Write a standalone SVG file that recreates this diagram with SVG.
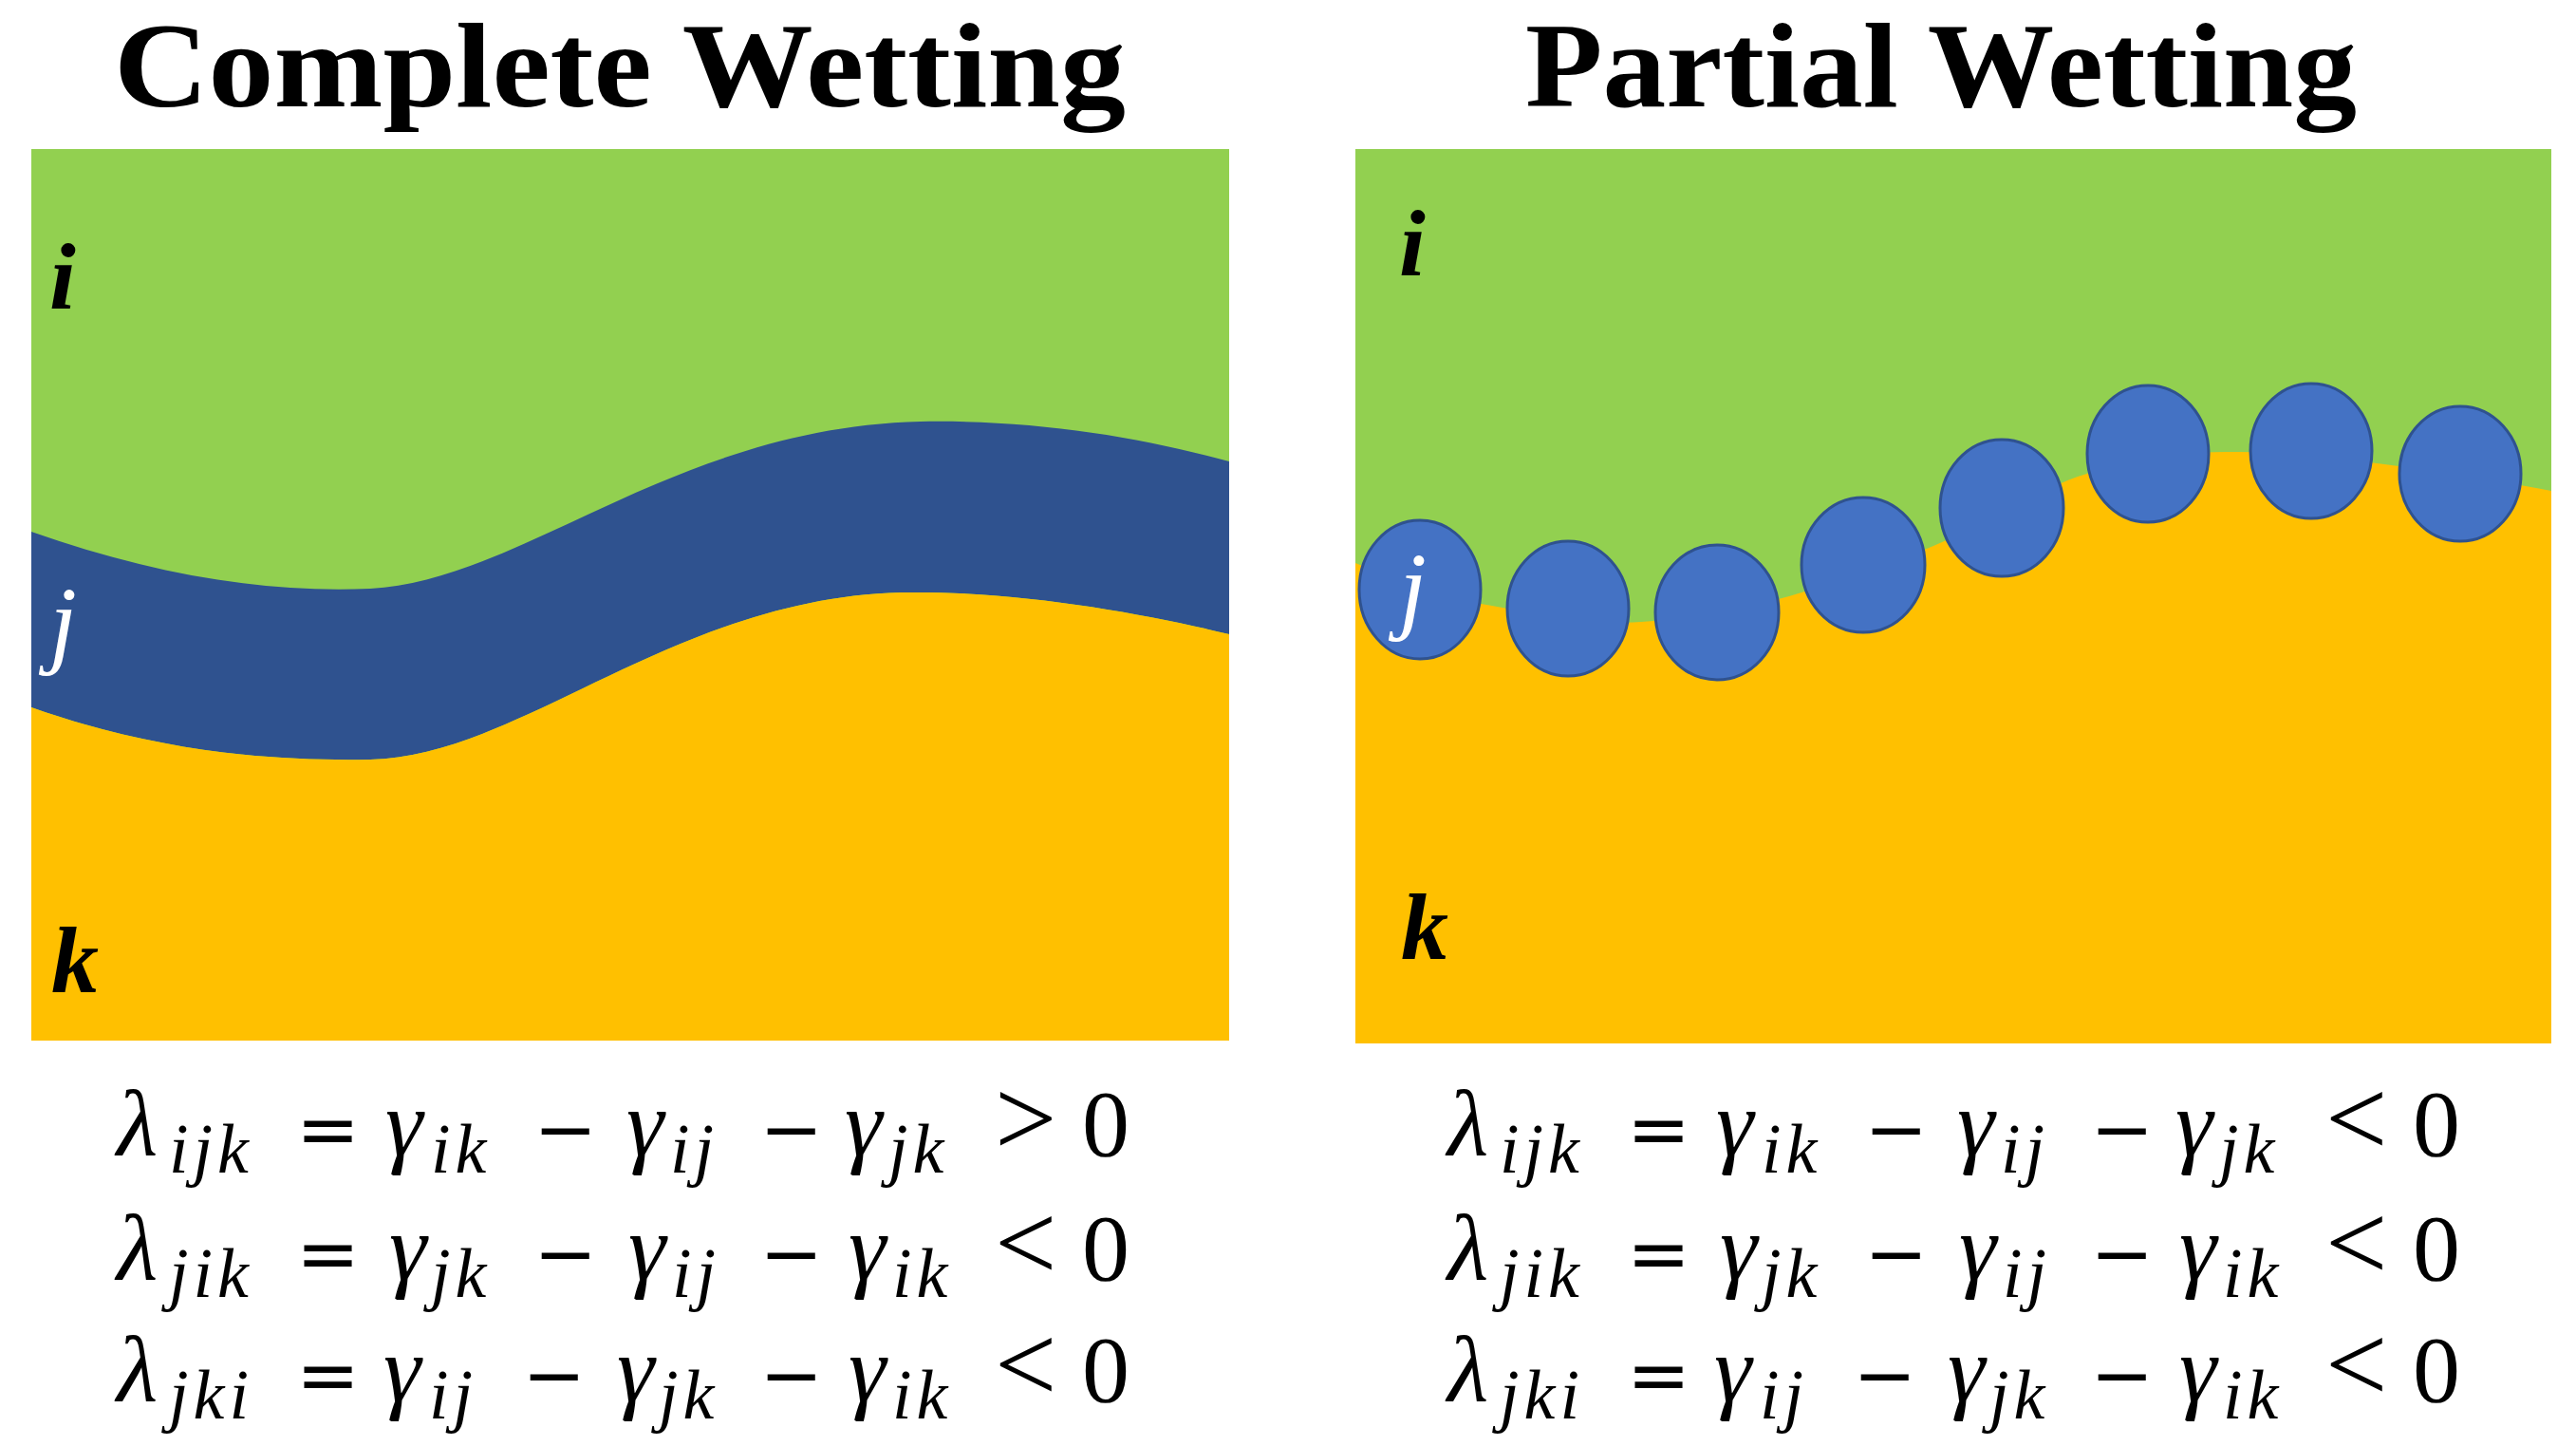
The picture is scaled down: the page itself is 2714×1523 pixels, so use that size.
<svg xmlns="http://www.w3.org/2000/svg" width="2714" height="1523" viewBox="0 0 2714 1523">
<style>
.title{font-family:"Liberation Serif",serif;font-weight:bold;font-size:126px;fill:#000}
.lbl{font-family:"Liberation Serif",serif;font-style:italic;font-weight:bold;font-size:100px;fill:#000}
.lblj{font-family:"Liberation Serif",serif;font-style:italic;font-size:104px;fill:#fff}
.m{font-family:"Liberation Serif",serif;font-style:italic;font-size:100px;fill:#000}
.s{font-family:"Liberation Serif",serif;font-style:italic;font-size:74px;letter-spacing:5px;fill:#000}
.o{font-family:"DejaVu Sans",sans-serif;font-size:80px;fill:#000}
.r{font-family:"Liberation Serif",serif;font-size:116px;fill:#000}
.z{font-family:"Liberation Serif",serif;font-size:100px;fill:#000}
.green{fill:#92D050}
.yellow{fill:#FFC000}
.band{fill:#2F528F}
.drop{fill:#4472C4;stroke:#2F528F;stroke-width:3}
</style>
<rect width="2714" height="1523" fill="#fff"/>
<g id="titles">
<text class="title" x="120" y="112" textLength="1066" lengthAdjust="spacingAndGlyphs">Complete Wetting</text>
<text class="title" x="1607" y="112" textLength="876" lengthAdjust="spacingAndGlyphs">Partial Wetting</text>
</g>
<g id="complete-panel">
<rect class="green" x="33" y="157" width="1262" height="939"/>
<path class="band" d="M33,560 C160,605 280,625 390,620 C550,612 710,450 970,444 C1090,442 1200,460 1295,486 L1295,668 C1200,645 1070,622 950,624 C710,630 550,796 390,800 C280,802 160,790 33,745 Z"/>
<path class="yellow" d="M33,745 C160,790 280,802 390,800 C550,796 710,630 950,624 C1070,622 1200,645 1295,668 L1295,1096 L33,1096 Z"/>
<text class="lbl" x="52" y="325">i</text>
<text class="lblj" x="52" y="690">j</text>
<text class="lbl" x="54" y="1045">k</text>
</g>
<g id="partial-panel">
<rect class="green" x="1428" y="157" width="1260" height="942"/>
<path class="yellow" d="M1428,593 C1480,615 1530,632 1572,638 C1640,650 1690,658 1729,655 C1790,650 1840,640 1885,628 C1950,608 1990,595 2037,575 C2100,548 2140,520 2189,502 C2240,485 2300,476 2346,476 C2420,476 2460,482 2512,489 C2580,498 2640,508 2688,517 L2688,1099 L1428,1099 Z"/>
<g id="droplets">
<ellipse class="drop" cx="1496" cy="621" rx="64" ry="73"/>
<ellipse class="drop" cx="1652" cy="641" rx="64" ry="71"/>
<ellipse class="drop" cx="1809" cy="645" rx="65" ry="71"/>
<ellipse class="drop" cx="1963" cy="595" rx="65" ry="71"/>
<ellipse class="drop" cx="2109" cy="535" rx="65" ry="72"/>
<ellipse class="drop" cx="2263" cy="478" rx="64" ry="72"/>
<ellipse class="drop" cx="2435" cy="475" rx="64" ry="71"/>
<ellipse class="drop" cx="2592" cy="499" rx="64" ry="71"/>
</g>
<text class="lbl" x="1474" y="290">i</text>
<text class="lblj" x="1474" y="654">j</text>
<text class="lbl" x="1476" y="1010">k</text>
</g>
<g id="eq-complete">
<text class="m" x="123" y="1217">λ</text><text class="s" x="178" y="1235">ijk</text>
<text class="o" x="312" y="1217">=</text>
<text class="m" x="406" y="1217">γ</text><text class="s" x="454" y="1235">ik</text>
<text class="o" x="562" y="1217">−</text>
<text class="m" x="660" y="1217">γ</text><text class="s" x="706" y="1235">ij</text>
<text class="o" x="800" y="1217">−</text>
<text class="m" x="890" y="1217">γ</text><text class="s" x="936" y="1235">jk</text>
<text class="r" x="1048" y="1217">&gt;</text>
<text class="z" x="1140" y="1217">0</text>

<text class="m" x="123" y="1348">λ</text><text class="s" x="178" y="1366">jik</text>
<text class="o" x="312" y="1348">=</text>
<text class="m" x="410" y="1348">γ</text><text class="s" x="454" y="1366">jk</text>
<text class="o" x="562" y="1348">−</text>
<text class="m" x="662" y="1348">γ</text><text class="s" x="708" y="1366">ij</text>
<text class="o" x="800" y="1348">−</text>
<text class="m" x="894" y="1348">γ</text><text class="s" x="940" y="1366">ik</text>
<text class="r" x="1048" y="1348">&lt;</text>
<text class="z" x="1140" y="1348">0</text>

<text class="m" x="123" y="1476">λ</text><text class="s" x="178" y="1494">jki</text>
<text class="o" x="312" y="1476">=</text>
<text class="m" x="404" y="1476">γ</text><text class="s" x="452" y="1494">ij</text>
<text class="o" x="550" y="1476">−</text>
<text class="m" x="650" y="1476">γ</text><text class="s" x="694" y="1494">jk</text>
<text class="o" x="800" y="1476">−</text>
<text class="m" x="894" y="1476">γ</text><text class="s" x="940" y="1494">ik</text>
<text class="r" x="1048" y="1476">&lt;</text>
<text class="z" x="1140" y="1476">0</text>
</g>
<g id="eq-partial" transform="translate(1402,0)">
<text class="m" x="123" y="1217">λ</text><text class="s" x="178" y="1235">ijk</text>
<text class="o" x="312" y="1217">=</text>
<text class="m" x="406" y="1217">γ</text><text class="s" x="454" y="1235">ik</text>
<text class="o" x="562" y="1217">−</text>
<text class="m" x="660" y="1217">γ</text><text class="s" x="706" y="1235">ij</text>
<text class="o" x="800" y="1217">−</text>
<text class="m" x="890" y="1217">γ</text><text class="s" x="936" y="1235">jk</text>
<text class="r" x="1048" y="1217">&lt;</text>
<text class="z" x="1140" y="1217">0</text>

<text class="m" x="123" y="1348">λ</text><text class="s" x="178" y="1366">jik</text>
<text class="o" x="312" y="1348">=</text>
<text class="m" x="410" y="1348">γ</text><text class="s" x="454" y="1366">jk</text>
<text class="o" x="562" y="1348">−</text>
<text class="m" x="662" y="1348">γ</text><text class="s" x="708" y="1366">ij</text>
<text class="o" x="800" y="1348">−</text>
<text class="m" x="894" y="1348">γ</text><text class="s" x="940" y="1366">ik</text>
<text class="r" x="1048" y="1348">&lt;</text>
<text class="z" x="1140" y="1348">0</text>

<text class="m" x="123" y="1476">λ</text><text class="s" x="178" y="1494">jki</text>
<text class="o" x="312" y="1476">=</text>
<text class="m" x="404" y="1476">γ</text><text class="s" x="452" y="1494">ij</text>
<text class="o" x="550" y="1476">−</text>
<text class="m" x="650" y="1476">γ</text><text class="s" x="694" y="1494">jk</text>
<text class="o" x="800" y="1476">−</text>
<text class="m" x="894" y="1476">γ</text><text class="s" x="940" y="1494">ik</text>
<text class="r" x="1048" y="1476">&lt;</text>
<text class="z" x="1140" y="1476">0</text>
</g>
</svg>
